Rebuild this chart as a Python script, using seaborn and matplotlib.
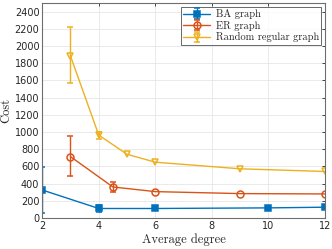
import numpy as np
import matplotlib
matplotlib.use("Agg")
import matplotlib.pyplot as plt
import seaborn as sns

# values
ba_x = [2, 4, 6, 10, 12]
ba_y = [327, 112, 112, 119, 127]
ba_low = [58, 73, np.nan, np.nan, np.nan]
ba_high = [596, 158, np.nan, np.nan, np.nan]

er_x = [3, 4.5, 6, 9, 12]
er_y = [715, 362, 308, 285, 281]
er_low = [485, 300, np.nan, np.nan, np.nan]
er_high = [954, 419, np.nan, np.nan, np.nan]

rr_x = [3, 4, 5, 6, 9, 12]
rr_y = [1885, 965, 742, 650, 573, 542]
rr_low = [1573, 919, np.nan, np.nan, np.nan, np.nan]
rr_high = [2220, 996, np.nan, np.nan, np.nan, np.nan]

labels = ["BA graph", "ER graph", "Random regular graph"]
x_ticks = [2, 4, 6, 8, 10, 12]
y_ticks = list(range(0, 2401, 200))

sns.set_style("whitegrid")
plt.rcParams["font.family"] = ["DejaVu Sans"]

colors = ["#0072BD", "#D95319", "#EDB120"]
markers = ["s", "o", "v"]

fig = plt.figure(figsize=(3.32, 2.49), dpi=100)
ax = fig.add_axes([0.127, 0.124, 0.852, 0.864])

series = [
    (ba_x, ba_y, ba_low, ba_high),
    (er_x, er_y, er_low, er_high),
    (rr_x, rr_y, rr_low, rr_high),
]
for (x, y, lo, hi), c, m, lab in zip(series, colors, markers, labels):
    y = np.array(y, dtype=float)
    err = np.vstack([y - np.array(lo), np.array(hi) - y])
    filled = m == "s"
    ax.errorbar(x, y, yerr=err, color=c, ecolor=c, marker=m, markersize=4 if filled else 5,
                mfc=c if filled else "none", mec=c, mew=1.1, lw=1.0, elinewidth=1.0,
                capsize=2.5, capthick=1.0, label=lab)

ax.set_xlim(2, 12)
ax.set_ylim(0, 2500)
ax.set_xticks(x_ticks)
ax.set_yticks(y_ticks)
ax.tick_params(axis="both", labelsize=7, colors="#262626", direction="in", length=2.5,
               width=0.6, pad=2, right=True, top=True)
ax.grid(True, color="#e6e6e6", lw=0.6)
for s in ax.spines.values():
    s.set_color("#6e6e6e")
    s.set_linewidth(0.8)

ax.set_xlabel("Average degree", fontfamily="cmr10", fontsize=9, labelpad=2)
ax.set_ylabel("Cost", fontfamily="cmr10", fontsize=9, labelpad=2)

leg = ax.legend(loc="upper right", prop={"family": "cmr10", "size": 7.5}, frameon=True,
                fancybox=False, edgecolor="#262626", borderpad=0.25, labelspacing=0.15,
                handlelength=2.6, handletextpad=0.5, borderaxespad=0.35)
leg.get_frame().set_linewidth(0.6)

fig.savefig("out.png", dpi=100)
